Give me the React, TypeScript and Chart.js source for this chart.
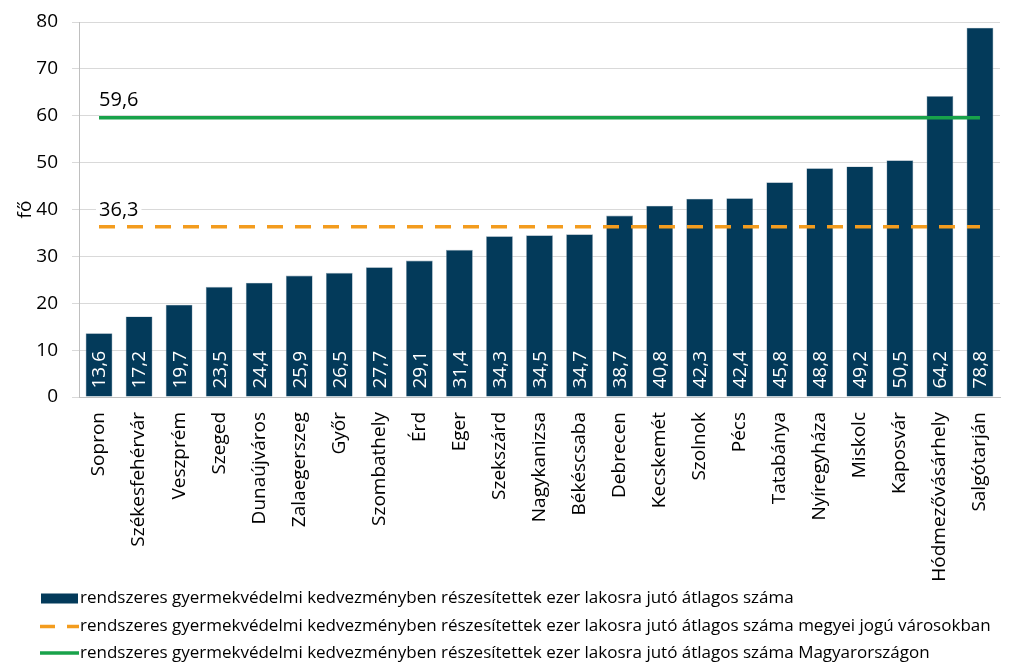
import React, { useEffect, useRef } from "react";
import { Chart, registerables } from "chart.js";

Chart.register(...registerables);

const categories = [
  "Sopron", "Székesfehérvár", "Veszprém", "Szeged", "Dunaújváros", "Zalaegerszeg",
  "Győr", "Szombathely", "Érd", "Eger", "Szekszárd", "Nagykanizsa", "Békéscsaba",
  "Debrecen", "Kecskemét", "Szolnok", "Pécs", "Tatabánya", "Nyíregyháza", "Miskolc",
  "Kaposvár", "Hódmezővásárhely", "Salgótarján",
];
const cityValues = [
  13.6, 17.2, 19.7, 23.5, 24.4, 25.9, 26.5, 27.7, 29.1, 31.4, 34.3, 34.5, 34.7,
  38.7, 40.8, 42.3, 42.4, 45.8, 48.8, 49.2, 50.5, 64.2, 78.8,
];
const countyCityAverage = 36.3;
const nationalAverage = 59.6;
const yTicks = [0, 10, 20, 30, 40, 50, 60, 70, 80];
const seriesNames = [
  "rendszeres gyermekvédelmi kedvezményben részesítettek ezer lakosra jutó átlagos száma",
  "rendszeres gyermekvédelmi kedvezményben részesítettek ezer lakosra jutó átlagos száma megyei jogú városokban",
  "rendszeres gyermekvédelmi kedvezményben részesítettek ezer lakosra jutó átlagos száma Magyarországon",
];

const NAVY = "#033a5a";
const ORANGE = "#f39c1e";
const GREEN = "#18a24a";
const FONT = "'Open Sans', sans-serif";

const fmt = (v: number) => v.toFixed(1).replace(".", ",");

const labelsPlugin = {
  id: "customLabels",
  afterDatasetsDraw(chart: any) {
    const ctx = chart.ctx;
    // bar value labels
    const barMeta = chart.getDatasetMeta(0);
    ctx.save();
    ctx.fillStyle = "#ffffff";
    ctx.font = `19px ${FONT}`;
    ctx.textAlign = "left";
    ctx.textBaseline = "middle";
    barMeta.data.forEach((el: any, i: number) => {
      ctx.save();
      ctx.translate(el.x + 1, el.base - 8);
      ctx.rotate(-Math.PI / 2);
      ctx.fillText(fmt(cityValues[i]), 0, 0);
      ctx.restore();
    });
    ctx.restore();

    // line labels
    [1, 2].forEach((di) => {
      const meta = chart.getDatasetMeta(di);
      const p = meta.data[0];
      if (!p) return;
      const txt = fmt(chart.data.datasets[di].data[0]);
      ctx.save();
      ctx.font = `20px ${FONT}`;
      const w = ctx.measureText(txt).width;
      const x = p.x;
      const y = p.y - 17;
      ctx.fillStyle = "#ffffff";
      ctx.fillRect(x - 3, y - 11, w + 6, 22);
      ctx.fillStyle = "#000000";
      ctx.textAlign = "left";
      ctx.textBaseline = "middle";
      ctx.fillText(txt, x, y);
      ctx.restore();
    });
  },
  afterDraw(chart: any) {
    const ctx = chart.ctx;
    const rows = [598.5, 626.5, 653];
    ctx.save();
    ctx.font = `17px ${FONT}`;
    ctx.textAlign = "left";
    ctx.textBaseline = "middle";
    // item 1: navy box
    ctx.fillStyle = NAVY;
    ctx.fillRect(41, rows[0] - 5, 37, 10);
    // item 2: orange dashed
    ctx.strokeStyle = ORANGE;
    ctx.lineWidth = 3.5;
    ctx.setLineDash([15, 12]);
    ctx.beginPath();
    ctx.moveTo(40, rows[1]);
    ctx.lineTo(79, rows[1]);
    ctx.stroke();
    ctx.setLineDash([]);
    // item 3: green
    ctx.strokeStyle = GREEN;
    ctx.beginPath();
    ctx.moveTo(40, rows[2]);
    ctx.lineTo(79, rows[2]);
    ctx.stroke();
    ctx.fillStyle = "#000000";
    seriesNames.forEach((name, i) => ctx.fillText(name, 80, rows[i]));
    ctx.restore();
  },
};

export default function App() {
  const ref = useRef<HTMLCanvasElement>(null);
  useEffect(() => {
    document.body.style.margin = "0";
    const canvas = ref.current!;
    const chart = new Chart(canvas, {
      type: "bar",
      data: {
        labels: categories,
        datasets: [
          {
            type: "bar",
            label: seriesNames[0],
            data: cityValues,
            backgroundColor: NAVY,
            borderColor: "#8aa0b0",
            borderWidth: 0.6,
            barPercentage: 0.67,
            categoryPercentage: 1,
            order: 2,
          } as any,
          {
            type: "line",
            label: seriesNames[1],
            data: categories.map(() => countyCityAverage),
            borderColor: ORANGE,
            borderWidth: 3.5,
            borderDash: [16, 12],
            pointRadius: 0,
            fill: false,
            order: 1,
          },
          {
            type: "line",
            label: seriesNames[2],
            data: categories.map(() => nationalAverage),
            borderColor: GREEN,
            borderWidth: 3.5,
            pointRadius: 0,
            fill: false,
            order: 1,
          },
        ],
      },
      options: {
        responsive: false,
        animation: false,
        layout: { padding: { top: 22, right: 23, left: 0, bottom: 0 } },
        plugins: {
          legend: { display: false },
          tooltip: { enabled: false },
        },
        scales: {
          x: {
            grid: { display: false, drawTicks: false },
            border: { display: true, color: "#bfbfbf", width: 1 },
            ticks: {
              autoSkip: false,
              minRotation: 90,
              maxRotation: 90,
              padding: 15,
              color: "#000",
              font: { family: FONT, size: 19 },
            },
            afterFit: (scale: any) => {
              scale.height = 271;
            },
          },
          y: {
            min: 0,
            max: 80,
            afterBuildTicks: (scale: any) => {
              scale.ticks = yTicks.map((v) => ({ value: v }));
            },
            grid: { color: "#d9d9d9", lineWidth: 1, tickLength: 7 },
            border: { display: true, color: "#bfbfbf", width: 1 },
            ticks: {
              padding: 14,
              color: "#000",
              font: { family: FONT, size: 19 },
            },
            title: {
              display: true,
              text: "fő",
              color: "#000",
              font: { family: FONT, size: 19 },
              padding: { top: 14, bottom: 0 },
            },
            afterFit: (scale: any) => {
              scale.width = 79;
              scale.paddingTop = 10;
              scale.paddingBottom = 10;
            },
          },
        },
      },
      plugins: [labelsPlugin],
    });
    return () => chart.destroy();
  }, []);
  return <canvas ref={ref} width={1023} height={668} style={{ display: "block" }} />;
}
